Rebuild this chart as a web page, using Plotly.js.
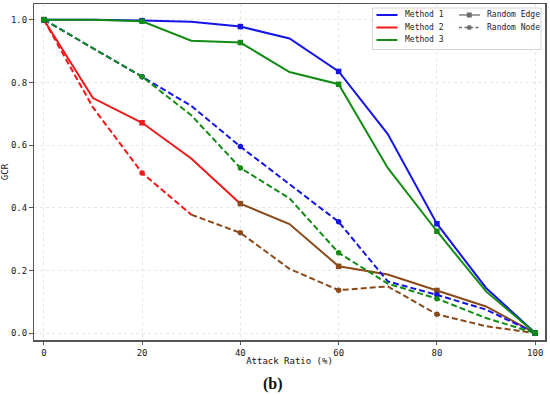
<!DOCTYPE html>
<html>
<head>
<meta charset="utf-8">
<script src="https://cdn.plot.ly/plotly-3.0.1.min.js"></script>
<style>html,body{margin:0;padding:0;background:#fff;}#chart{width:550px;height:395px;}</style>
</head>
<body>
<div id="chart"></div>
<script>
// Attack ratio (%)
const attackRatio = [0, 10, 20, 30, 40, 50, 60, 70, 80, 90, 100];
const markerRatio = [0, 20, 40, 60, 80, 100];

// GCR values — Random Edge (solid)
const m1Edge = [1.0, 1.0, 0.997, 0.993, 0.978, 0.94, 0.835, 0.635, 0.349, 0.144, 0.0];
const m2Edge = [1.0, 0.75, 0.671, 0.557, 0.413, 0.348, 0.213, 0.187, 0.136, 0.085, 0.0];
const m3Edge = [1.0, 1.0, 0.995, 0.933, 0.927, 0.833, 0.794, 0.527, 0.325, 0.133, 0.0];

// GCR values — Random Node (dashed)
const m1Node = [1.0, 0.91, 0.818, 0.725, 0.595, 0.475, 0.355, 0.165, 0.122, 0.075, 0.0];
const m2Node = [1.0, 0.72, 0.511, 0.378, 0.32, 0.205, 0.137, 0.149, 0.06, 0.022, 0.0];
const m3Node = [1.0, 0.91, 0.818, 0.695, 0.527, 0.43, 0.256, 0.158, 0.11, 0.048, 0.0];

const methodNames = ["Method 1", "Method 2", "Method 3"];
const strategyNames = ["Random Edge", "Random Node"];
const xTicks = [0, 20, 40, 60, 80, 100];
const yTicks = [0.0, 0.2, 0.4, 0.6, 0.8, 1.0];

const BLUE = "#1414e6", RED = "#f01818", GREEN = "#128c12", BROWN = "#8b4a1a", GRAY = "#6e6e6e";
const FONT = "DejaVu Sans Mono, monospace";

function pick(xs, ys, keep) {
  const X = [], Y = [];
  xs.forEach((x, i) => { if (keep(x)) { X.push(x); Y.push(ys[i]); } });
  return {x: X, y: Y};
}
function lineTrace(xs, ys, color, dash) {
  return {x: xs, y: ys, mode: "lines", type: "scatter", showlegend: false, hoverinfo: "skip",
          line: {color: color, width: 2, dash: dash}};
}
function markTrace(xs, ys, color, symbol) {
  const p = pick(xs, ys, x => markerRatio.includes(x));
  return {x: p.x, y: p.y, mode: "markers", type: "scatter", showlegend: false, hoverinfo: "skip",
          marker: {color: color, size: 5.5, symbol: symbol}};
}

const DASH = "6px,3px";
const traces = [];
// Method 2 (drawn first, beneath)
let a = pick(attackRatio, m2Node, x => x <= 30), b = pick(attackRatio, m2Node, x => x >= 30);
traces.push(lineTrace(a.x, a.y, RED, DASH), lineTrace(b.x, b.y, BROWN, DASH));
a = pick(attackRatio, m2Edge, x => x <= 40); b = pick(attackRatio, m2Edge, x => x >= 40);
traces.push(lineTrace(a.x, a.y, RED, "solid"), lineTrace(b.x, b.y, BROWN, "solid"));
let mA = pick(attackRatio, m2Node, x => x < 30), mB = pick(attackRatio, m2Node, x => x >= 30);
traces.push(markTrace(mA.x, mA.y, RED, "circle"), markTrace(mB.x, mB.y, BROWN, "circle"));
mA = pick(attackRatio, m2Edge, x => x < 40); mB = pick(attackRatio, m2Edge, x => x >= 40);
traces.push(markTrace(mA.x, mA.y, RED, "square"), markTrace(mB.x, mB.y, BROWN, "square"));
// Method 1 and Method 3
traces.push(lineTrace(attackRatio, m1Node, BLUE, DASH), markTrace(attackRatio, m1Node, BLUE, "circle"));
traces.push(lineTrace(attackRatio, m3Node, GREEN, DASH), markTrace(attackRatio, m3Node, GREEN, "circle"));
traces.push(lineTrace(attackRatio, m1Edge, BLUE, "solid"), markTrace(attackRatio, m1Edge, BLUE, "square"));
traces.push(lineTrace(attackRatio, m3Edge, GREEN, "solid"), markTrace(attackRatio, m3Edge, GREEN, "square"));

// ---- Legend (drawn as shapes + annotations in paper space) ----
const W = 550, H = 395, M = {l: 34, r: 5, t: 4, b: 55};
const PW = W - M.l - M.r, PH = H - M.t - M.b;
const px = v => (v - M.l) / PW;
const py = v => (H - M.b - v) / PH;
const shapes = [], annotations = [];
const rowY = [15, 27.5, 40];
shapes.push({type: "rect", xref: "paper", yref: "paper", x0: px(372.5), x1: px(541), y0: py(49.5), y1: py(8),
             line: {color: "#d4d4d4", width: 1}, fillcolor: "rgba(255,255,255,0.8)", layer: "above"});
[BLUE, RED, GREEN].forEach((c, i) => {
  shapes.push({type: "line", xref: "paper", yref: "paper", x0: px(376.5), x1: px(397.5), y0: py(rowY[i]), y1: py(rowY[i]),
               line: {color: c, width: 2}, layer: "above"});
  annotations.push({text: methodNames[i], xref: "paper", yref: "paper", x: px(402.5), y: py(rowY[i]),
                    xanchor: "left", yanchor: "middle", showarrow: false,
                    font: {family: FONT, size: 8, color: "#222"}});
});
strategyNames.forEach((n, i) => {
  shapes.push({type: "line", xref: "paper", yref: "paper", x0: px(459), x1: px(480), y0: py(rowY[i]), y1: py(rowY[i]),
               line: {color: GRAY, width: 1.3, dash: i === 0 ? "solid" : "3px,2.5px"}, layer: "above"});
  shapes.push({type: i === 0 ? "rect" : "circle", xref: "paper", yref: "paper",
               x0: px(467), x1: px(471.5), y0: py(rowY[i] + 2.25), y1: py(rowY[i] - 2.25),
               line: {color: GRAY, width: 0.5}, fillcolor: GRAY, layer: "above"});
  annotations.push({text: n, xref: "paper", yref: "paper", x: px(484.5), y: py(rowY[i]),
                    xanchor: "left", yanchor: "middle", showarrow: false,
                    font: {family: FONT, size: 8, color: "#222"}});
});
annotations.push({text: "<b>(b)</b>", xref: "paper", yref: "paper", x: px(273), y: py(384), xanchor: "center", yanchor: "middle",
                  showarrow: false, font: {family: "Liberation Serif, serif", size: 16, color: "#111"}});

const axisCommon = {
  showline: true, mirror: true, linecolor: "#555", linewidth: 1.5,
  ticks: "outside", ticklen: 3.5, tickcolor: "#555", tickwidth: 1,
  showgrid: true, gridcolor: "#e6e6e6", griddash: "dot", gridwidth: 1,
  zeroline: false, tickfont: {family: FONT, size: 9, color: "#222"}, automargin: false
};

const layout = {
  width: W, height: H,
  margin: M,
  paper_bgcolor: "#fff", plot_bgcolor: "#fff",
  showlegend: false,
  xaxis: Object.assign({}, axisCommon, {
    range: [-2, 102], tickvals: xTicks, ticktext: xTicks.map(String),
    title: {text: "Attack Ratio (%)", font: {family: FONT, size: 9, color: "#111"}, standoff: 1}
  }),
  yaxis: Object.assign({}, axisCommon, {
    range: [-0.022, 1.05], tickvals: yTicks, ticktext: yTicks.map(v => v.toFixed(1)),
    title: {text: "GCR", font: {family: FONT, size: 9, color: "#111"}, standoff: 3}
  }),
  shapes: shapes,
  annotations: annotations
};

Plotly.newPlot("chart", traces, layout, {displayModeBar: false, staticPlot: true});
</script>
</body>
</html>
